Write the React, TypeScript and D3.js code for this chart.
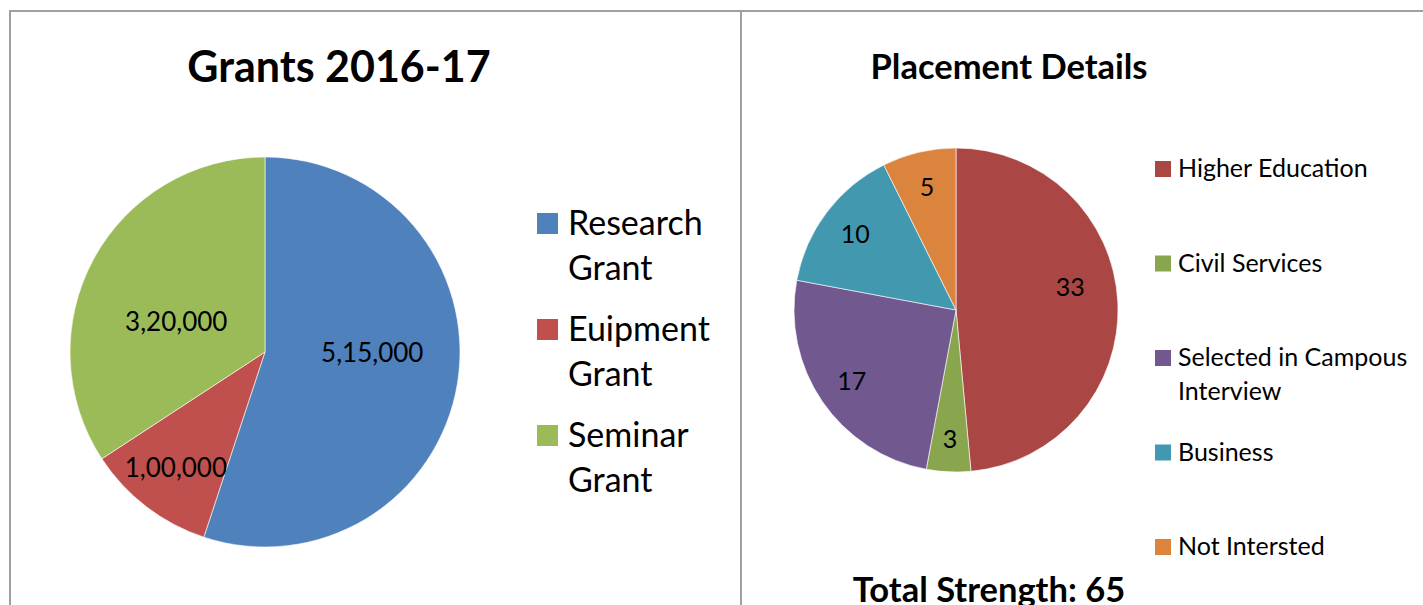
import React, { useEffect, useRef } from 'react'
import * as d3 from 'd3'

// grants pie
const grantCategories = ['Research Grant', 'Euipment Grant', 'Seminar Grant']
const grantValues = [515000, 100000, 320000]
const grantLabels = ['5,15,000', '1,00,000', '3,20,000']
const grantColors = ['#4F81BD', '#C0504D', '#9BBB59']

// placement pie
const placementCategories = ['Higher Education', 'Civil Services', 'Selected in Campous Interview', 'Business', 'Not Intersted']
const placementValues = [33, 3, 17, 10, 5]
const placementColors = ['#AA4643', '#89A54E', '#71588F', '#4198AF', '#DB843D']

const FONT = 'Lato, "Open Sans", sans-serif'

// label placement: distance from centre (fraction of radius) and where along the slice (0..1)
// mimics excel's "best fit" labels
const grantLabelPos = [0.55, 0.75, 0.48]
const grantLabelAlong = [0.455, 0.5, 0.42]
const placementLabelPos = [0.72, 0.8, 0.78, 0.78, 0.78]
const placementLabelAlong = [0.45, 0.5, 0.5, 0.5, 0.5]

export default function App() {
  const ref = useRef<SVGSVGElement>(null)

  useEffect(() => {
    document.body.style.margin = '0'
    const svg = d3.select(ref.current)
    svg.selectAll('*').remove()

    const width = 1423
    const height = 605

    svg.attr('width', width).attr('height', height).style('display', 'block').style('background', '#fff')

    // panel borders
    const border = svg.append('g').attr('stroke', '#A0A0A0').attr('stroke-width', 2)
    border.append('line').attr('x1', 9).attr('x2', width).attr('y1', 11).attr('y2', 11)
    border.append('line').attr('x1', 10).attr('x2', 10).attr('y1', 10).attr('y2', height)
    border.append('line').attr('x1', 741).attr('x2', 741).attr('y1', 10).attr('y2', height)

    const wrap = (sel: any, maxW: number, lineH: number) => {
      sel.each(function (this: SVGTextElement) {
        const text = d3.select(this)
        const words = text.text().split(' ')
        const x = text.attr('x')
        text.text('')
        let line: string[] = []
        let tspan = text.append('tspan').attr('x', x).attr('dy', 0)
        words.forEach(w => {
          line.push(w)
          tspan.text(line.join(' '))
          if ((tspan.node() as SVGTSpanElement).getComputedTextLength() > maxW && line.length > 1) {
            line.pop()
            tspan.text(line.join(' '))
            line = [w]
            tspan = text.append('tspan').attr('x', x).attr('dy', lineH).text(w)
          }
        })
      })
    }

    const labelPoint = (d: d3.PieArcDatum<number>, rr: number, along: number) => {
      const a = d.startAngle + (d.endAngle - d.startAngle) * along
      return [Math.sin(a) * rr, -Math.cos(a) * rr]
    }

    // ---------- left : Grants 2016-17 ----------
    const g1 = svg.append('g')
    const c1 = { x: 265, y: 352 }
    const r1 = 195

    g1.append('text')
      .attr('x', 339).attr('y', 82)
      .attr('text-anchor', 'middle')
      .attr('font-family', FONT).attr('font-weight', 'bold').attr('font-size', 43)
      .text('Grants 2016-17')

    const pie1 = d3.pie<number>().sort(null).value(d => d)(grantValues)
    const arc1 = d3.arc<d3.PieArcDatum<number>>().innerRadius(0).outerRadius(r1)

    const p1 = g1.append('g').attr('transform', `translate(${c1.x},${c1.y})`)
    p1.selectAll('path').data(pie1).enter().append('path')
      .attr('d', arc1)
      .attr('fill', (d, i) => grantColors[i])
      .attr('stroke', '#fff').attr('stroke-width', 0.6)

    p1.selectAll('text.lbl').data(pie1).enter().append('text')
      .attr('class', 'lbl')
      .attr('transform', (d, i) => {
        const c = labelPoint(d, r1 * grantLabelPos[i], grantLabelAlong[i])
        return `translate(${c[0]},${c[1]})`
      })
      .attr('text-anchor', 'middle').attr('dy', '0.35em')
      .attr('font-family', FONT).attr('font-size', 26)
      .text((d, i) => grantLabels[i])

    const leg1 = g1.append('g')
    grantCategories.forEach((cat, i) => {
      const y = 235 + i * 106
      leg1.append('rect').attr('x', 537).attr('y', y - 22).attr('width', 21).attr('height', 21).attr('fill', grantColors[i])
      leg1.append('text')
        .attr('x', 568).attr('y', y)
        .attr('font-family', FONT).attr('font-size', 34)
        .text(cat)
        .call(wrap, 165, 45)
    })

    // ---------- right : Placement Details ----------
    const g2 = svg.append('g')
    const c2 = { x: 956, y: 310 }
    const r2 = 162

    g2.append('text')
      .attr('x', 1009).attr('y', 79)
      .attr('text-anchor', 'middle')
      .attr('font-family', FONT).attr('font-weight', 'bold').attr('font-size', 34.5)
      .text('Placement Details')

    const pie2 = d3.pie<number>().sort(null).value(d => d)(placementValues)
    const arc2 = d3.arc<d3.PieArcDatum<number>>().innerRadius(0).outerRadius(r2)

    const p2 = g2.append('g').attr('transform', `translate(${c2.x},${c2.y})`)
    p2.selectAll('path').data(pie2).enter().append('path')
      .attr('d', arc2)
      .attr('fill', (d, i) => placementColors[i])
      .attr('stroke', '#fff').attr('stroke-width', 0.6)

    p2.selectAll('text.lbl').data(pie2).enter().append('text')
      .attr('class', 'lbl')
      .attr('transform', (d, i) => {
        const c = labelPoint(d, r2 * placementLabelPos[i], placementLabelAlong[i])
        return `translate(${c[0]},${c[1]})`
      })
      .attr('text-anchor', 'middle').attr('dy', '0.35em')
      .attr('font-family', FONT).attr('font-size', 25)
      .text(d => d.data)

    const leg2 = g2.append('g')
    placementCategories.forEach((cat, i) => {
      const y = 177 + i * 94.5
      leg2.append('rect').attr('x', 1155).attr('y', y - 16).attr('width', 16).attr('height', 16).attr('fill', placementColors[i])
      leg2.append('text')
        .attr('x', 1178).attr('y', y)
        .attr('font-family', FONT).attr('font-size', 25)
        .text(cat)
        .call(wrap, 240, 34)
    })

    g2.append('text')
      .attr('x', 989).attr('y', 602)
      .attr('text-anchor', 'middle')
      .attr('font-family', FONT).attr('font-weight', 'bold').attr('font-size', 34.5)
      .text('Total Strength: 65')
  }, [])

  return <svg ref={ref}></svg>
}
